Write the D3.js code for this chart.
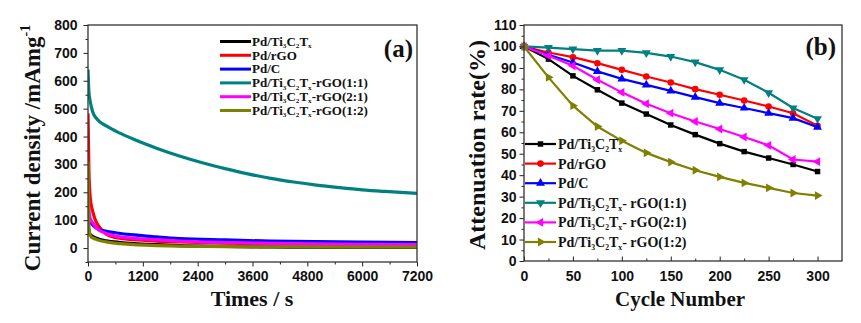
<!DOCTYPE html>
<html>
<head>
<meta charset="utf-8">
<script src="https://cdnjs.cloudflare.com/ajax/libs/d3/7.8.5/d3.min.js"></script>
<style>
    body { margin: 0; background: #fff; }
    svg text { font-family: "Liberation Serif", "Times New Roman", serif; font-weight: bold; fill: #111; }
    .tick text { font-family: "Liberation Sans", Arial, sans-serif; font-size: 14px; font-weight: bold; }
    .tick line { stroke: #222; }
</style>
</head>
<body>
<svg id="fig" width="861" height="323"></svg>
<script>
'use strict';

// ---- (a) chronoamperometry, current density vs time ----
var seriesNames = ['Pd/Ti_3C_2T_x', 'Pd/rGO', 'Pd/C', 'Pd/Ti_3C_2T_x-rGO(1:1)',
                   'Pd/Ti_3C_2T_x-rGO(2:1)', 'Pd/Ti_3C_2T_x-rGO(1:2)'];
var seriesColors = ['#000000', '#ff0000', '#0000ff', '#008080', '#ff00ff', '#808000'];

var timeBlack = [0, 20, 50, 100, 200, 400, 700, 1000, 1500, 2000, 3000, 4000, 5000, 6000, 7200];
var curBlack  = [85, 60, 48, 42, 34, 26, 20, 16, 12, 9, 6, 4, 3, 2, 2];
var timeRed   = [0, 10, 20, 40, 70, 100, 150, 250, 400, 600, 1000, 1500, 2000, 3000, 4000, 5000, 6000, 7200];
var curRed    = [483, 380, 280, 200, 155, 133, 105, 75, 50, 38, 30, 25, 22, 18, 15, 13, 11, 10];
var timeBlue  = [0, 20, 50, 100, 200, 400, 600, 1000, 1500, 2000, 3000, 4000, 5000, 6000, 7200];
var curBlue   = [150, 110, 95, 84, 70, 60, 55, 47, 40, 34, 29, 25, 23, 21, 20];
var timeTeal  = [0, 20, 50, 100, 200, 400, 700, 1000, 1500, 2000, 2500, 3000, 3500, 4000, 4500, 5000, 5500, 6000, 6500, 7200];
var curTeal   = [640, 560, 525, 490, 462, 438, 412, 390, 358, 330, 306, 285, 266, 250, 237, 226, 217, 209, 203, 196];
var timeMag   = [0, 20, 50, 100, 200, 400, 600, 1000, 1500, 2000, 3000, 4000, 5000, 6000, 7200];
var curMag    = [220, 140, 105, 91, 70, 52, 43, 35, 30, 25, 20, 17, 15, 13, 12];
var timeOlive = [0, 10, 20, 40, 70, 100, 200, 400, 700, 1000, 1500, 2000, 3000, 4000, 5000, 6000, 7200];
var curOlive  = [310, 150, 80, 50, 40, 37, 30, 22, 16, 12, 9, 7, 5, 4, 4, 3, 3];

var timeTicks = [0, 1200, 2400, 3600, 4800, 6000, 7200];
var currentTicks = [0, 100, 200, 300, 400, 500, 600, 700, 800];

// ---- (b) attenuation rate vs cycle number ----
var cycles    = [0, 25, 50, 75, 100, 125, 150, 175, 200, 225, 250, 275, 300];
var attBlack  = [100, 94.1, 86.3, 79.8, 73.6, 68.5, 63.4, 58.9, 54.7, 51.0, 48.0, 45.0, 41.7];
var attRed    = [100, 97.2, 95.0, 92.2, 89.1, 86.0, 83.2, 80.1, 77.5, 74.8, 72.0, 68.9, 63.0];
var attBlue   = [100, 96.1, 92.5, 88.4, 84.9, 82.1, 79.3, 76.4, 73.6, 71.3, 68.9, 66.6, 62.4];
var attTeal   = [100, 99.5, 98.8, 98.1, 98.1, 97.0, 95.3, 92.7, 89.1, 84.5, 78.4, 71.3, 66.3];
var attMag    = [100, 95.7, 91.0, 84.5, 78.6, 73.3, 68.9, 65.0, 61.5, 57.8, 53.9, 47.3, 46.3];
var attOlive  = [100, 85.6, 72.4, 62.7, 56.0, 50.4, 46.1, 42.3, 39.2, 36.4, 34.1, 31.7, 30.5];

var cycleTicks = [0, 50, 100, 150, 200, 250, 300];
var attTicks = [0, 10, 20, 30, 40, 50, 60, 70, 80, 90, 100, 110];
var legendNamesB = ['Pd/Ti_3C_2T_x', 'Pd/rGO', 'Pd/C', 'Pd/Ti_3C_2T_x- rGO(1:1)',
                    'Pd/Ti_3C_2T_x- rGO(2:1)', 'Pd/Ti_3C_2T_x- rGO(1:2)'];

var svg = d3.select('#fig');

// '_' in a label marks the next character as a subscript
function writeLabel(text, label, size) {
    var parts = label.split(/(_.)/).filter(function (p) { return p.length; }),
        low = false,
        drop = size * 0.2;
    parts.forEach(function (p) {
        var t = text.append('tspan');
        if (p[0] === '_') {
            t.text(p[1]).attr('font-size', size * 0.55).attr('dy', low ? 0 : drop);
            low = true;
        } else {
            t.text(p).attr('font-size', size).attr('dy', low ? -drop : 0);
            low = false;
        }
    });
}

function drawAxes(g, x, y, opt) {
    var bottom = y.range()[0], top = y.range()[1],
        left = x.range()[0], right = x.range()[1];

    g.append('g')
        .attr('transform', 'translate(0,' + bottom + ')')
        .call(d3.axisBottom(x).tickValues(opt.xMinor).tickSize(opt.xIn ? -2.5 : 2.5).tickFormat(''))
        .call(function (a) { a.select('.domain').remove(); });
    g.append('g')
        .attr('transform', 'translate(0,' + bottom + ')')
        .call(d3.axisBottom(x).tickValues(opt.xTicks).tickFormat(d3.format('d'))
            .tickSize(opt.xIn ? -4.5 : 4.5).tickPadding(opt.xIn ? 10 : 5))
        .call(function (a) { a.select('.domain').remove(); });

    g.append('g')
        .attr('transform', 'translate(' + left + ',0)')
        .call(d3.axisLeft(y).tickValues(opt.yMinor).tickSize(2.5).tickFormat(''))
        .call(function (a) { a.select('.domain').remove(); });
    g.append('g')
        .attr('transform', 'translate(' + left + ',0)')
        .call(d3.axisLeft(y).tickValues(opt.yTicks).tickFormat(d3.format('d'))
            .tickSize(4.5).tickPadding(opt.yPad))
        .call(function (a) { a.select('.domain').remove(); });

    g.append('rect')
        .attr('x', left).attr('y', top)
        .attr('width', right - left).attr('height', bottom - top)
        .attr('fill', 'none').attr('stroke', '#333').attr('stroke-width', 1.3);
}

// ================= panel (a) =================
var xA = d3.scaleLinear().domain([0, 7200]).range([88, 417]),
    yA = d3.scaleLinear().domain([-50, 800]).range([262, 25]);

var gA = svg.append('g');

gA.append('clipPath').attr('id', 'clipA')
    .append('rect').attr('x', 88).attr('y', 25).attr('width', 329).attr('height', 237);

var curvesA = [
    { t: timeBlack, v: curBlack },
    { t: timeRed, v: curRed },
    { t: timeBlue, v: curBlue },
    { t: timeTeal, v: curTeal },
    { t: timeMag, v: curMag },
    { t: timeOlive, v: curOlive }
];

var lineA = d3.line()
    .x(function (d) { return xA(d[0]); })
    .y(function (d) { return yA(d[1]); })
    .curve(d3.curveMonotoneX);

gA.append('g').attr('clip-path', 'url(#clipA)')
    .selectAll('path')
    .data(curvesA)
    .enter()
    .append('path')
    .attr('d', function (d) { return lineA(d3.zip(d.t, d.v)); })
    .attr('fill', 'none')
    .attr('stroke', function (d, i) { return seriesColors[i]; })
    .attr('stroke-width', 3.2)
    .attr('stroke-linejoin', 'round');

drawAxes(gA, xA, yA, {
    xTicks: timeTicks, xMinor: d3.range(600, 7200, 1200), xIn: false,
    yTicks: currentTicks, yMinor: d3.range(-50, 800, 100), yPad: 6
});

// legend (a)
var legA = gA.append('g').selectAll('g')
    .data(seriesNames)
    .enter()
    .append('g')
    .attr('transform', function (d, i) { return 'translate(220,' + (41.5 + i * 13.8) + ')'; });
legA.append('line')
    .attr('x1', 0).attr('x2', 31)
    .attr('stroke', function (d, i) { return seriesColors[i]; })
    .attr('stroke-width', 3);
legA.append('text')
    .attr('x', 32).attr('y', 4.2)
    .each(function (d) { writeLabel(d3.select(this), d, 13); });

gA.append('text')
    .attr('x', 413).attr('y', 57)
    .attr('text-anchor', 'end')
    .attr('font-size', 25)
    .text('(a)');

gA.append('text')
    .attr('x', 252).attr('y', 306)
    .attr('text-anchor', 'middle')
    .attr('font-size', 22)
    .text('Times / s');

var yTitleA = gA.append('text')
    .attr('transform', 'translate(40,148) rotate(-90)')
    .attr('text-anchor', 'middle')
    .attr('font-size', 23);
yTitleA.append('tspan').text('Current density /mAmg');
yTitleA.append('tspan').attr('font-size', 14).attr('dy', -10).text('-1');

// ================= panel (b) =================
var xB = d3.scaleLinear().domain([0, 325]).range([524, 842]),
    yB = d3.scaleLinear().domain([0, 110]).range([261, 25]);

var gB = svg.append('g');

var seriesB = [attBlack, attRed, attBlue, attTeal, attMag, attOlive];
var symbolsB = [
    { type: d3.symbolSquare, rot: 0, size: 30 },
    { type: d3.symbolCircle, rot: 0, size: 34 },
    { type: d3.symbolTriangle, rot: 0, size: 34 },
    { type: d3.symbolTriangle, rot: 180, size: 34 },
    { type: d3.symbolTriangle, rot: -90, size: 34 },
    { type: d3.symbolTriangle, rot: 90, size: 34 }
];

var lineB = d3.line()
    .x(function (d) { return xB(d[0]); })
    .y(function (d) { return yB(d[1]); });

var sB = gB.append('g').selectAll('g')
    .data(seriesB)
    .enter()
    .append('g');

sB.append('path')
    .attr('d', function (d) { return lineB(d3.zip(cycles, d)); })
    .attr('fill', 'none')
    .attr('stroke', function (d, i) { return seriesColors[i]; })
    .attr('stroke-width', 2.2);

sB.each(function (d, i) {
    d3.select(this).selectAll('path.mk')
        .data(d3.zip(cycles, d))
        .enter()
        .append('path')
        .attr('class', 'mk')
        .attr('d', d3.symbol().type(symbolsB[i].type).size(symbolsB[i].size))
        .attr('transform', function (p) {
            return 'translate(' + xB(p[0]) + ',' + yB(p[1]) + ') rotate(' + symbolsB[i].rot + ')';
        })
        .attr('fill', seriesColors[i]);
});

drawAxes(gB, xB, yB, {
    xTicks: cycleTicks, xMinor: [25, 75, 125, 175, 225, 275], xIn: true,
    yTicks: attTicks, yMinor: d3.range(5, 110, 10), yPad: 3
});

// legend (b)
var legB = gB.append('g').selectAll('g')
    .data(legendNamesB)
    .enter()
    .append('g')
    .attr('transform', function (d, i) { return 'translate(525,' + (144 + i * 19.6) + ')'; });
legB.append('line')
    .attr('x1', 0).attr('x2', 31)
    .attr('stroke', function (d, i) { return seriesColors[i]; })
    .attr('stroke-width', 2.2);
legB.append('path')
    .attr('d', function (d, i) { return d3.symbol().type(symbolsB[i].type).size(symbolsB[i].size)(); })
    .attr('transform', function (d, i) { return 'translate(15.5,0) rotate(' + symbolsB[i].rot + ')'; })
    .attr('fill', function (d, i) { return seriesColors[i]; });
legB.append('text')
    .attr('x', 33).attr('y', 5)
    .each(function (d) { writeLabel(d3.select(this), d, 14); });

gB.append('text')
    .attr('x', 836).attr('y', 55)
    .attr('text-anchor', 'end')
    .attr('font-size', 25)
    .text('(b)');

gB.append('text')
    .attr('x', 680).attr('y', 306)
    .attr('text-anchor', 'middle')
    .attr('font-size', 21)
    .text('Cycle Number');

gB.append('text')
    .attr('transform', 'translate(485,145) rotate(-90)')
    .attr('text-anchor', 'middle')
    .attr('font-size', 24)
    .text('Attenuation rate(%)');
</script>
</body>
</html>
